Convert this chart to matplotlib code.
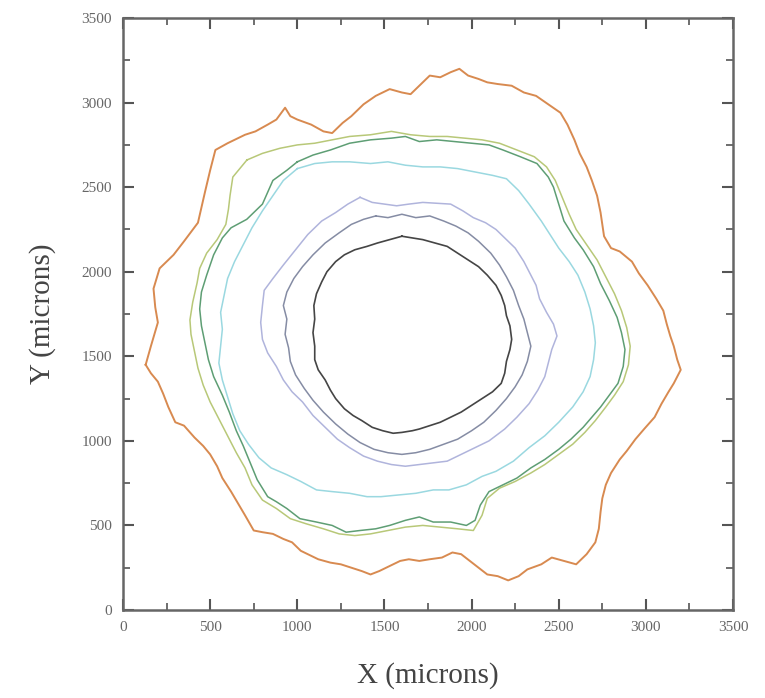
import matplotlib
matplotlib.use("Agg")
import matplotlib.pyplot as plt
from matplotlib.ticker import MultipleLocator

# Contour fronts (x, y in microns)
orange_x = [130,160,200,185,175,210,290,350,430,450,470,500,530,600,700,760,830,880,930,960,1000,1080,1150,1200,1260,1310,1380,1450,1530,1600,1650,1700,1760,1820,1880,1930,1980,2040,2090,2150,2230,2300,2370,2440,2510,2550,2590,2620,2660,2690,2720,2740,2760,2800,2850,2920,2960,3010,3060,3100,3120,3140,3160,3180,3200,3160,3130,3090,3050,2990,2940,2890,2850,2800,2770,2750,2740,2730,2710,2660,2600,2530,2460,2400,2320,2270,2210,2150,2090,2040,1990,1940,1890,1830,1760,1700,1640,1590,1530,1470,1420,1370,1310,1250,1190,1120,1060,1020,970,920,860,800,750,700,660,620,570,540,500,460,410,350,300,260,230,200,160]
orange_y = [1450,1560,1700,1790,1900,2020,2100,2180,2290,2380,2470,2600,2720,2760,2810,2830,2870,2900,2970,2920,2900,2870,2830,2820,2880,2920,2990,3040,3080,3060,3050,3100,3160,3150,3180,3200,3160,3140,3120,3110,3100,3060,3040,2990,2940,2870,2780,2700,2620,2540,2450,2350,2210,2140,2120,2060,1990,1920,1840,1770,1690,1620,1560,1480,1420,1340,1290,1220,1140,1070,1010,940,890,810,740,660,580,480,400,330,270,290,310,270,240,200,175,200,210,250,290,330,340,310,300,290,300,290,260,230,210,230,250,270,280,300,330,350,400,420,450,460,470,560,630,700,780,850,920,970,1020,1090,1110,1200,1280,1350,1400]

olive_x = [711,800,900,1000,1100,1200,1300,1420,1540,1650,1760,1860,1960,2060,2160,2260,2360,2430,2480,2520,2560,2600,2660,2720,2770,2820,2860,2890,2910,2900,2870,2820,2770,2710,2650,2580,2500,2420,2340,2250,2160,2090,2060,2010,1920,1820,1720,1620,1520,1420,1330,1240,1150,1050,960,880,800,740,700,650,600,550,500,460,430,410,390,384,400,425,440,480,540,590,605,614,630]
olive_y = [2661,2700,2730,2750,2760,2780,2800,2810,2830,2810,2800,2800,2790,2780,2760,2720,2680,2620,2540,2440,2340,2250,2160,2070,1970,1870,1770,1670,1560,1450,1350,1270,1200,1120,1050,980,920,860,810,760,720,660,560,470,480,490,500,490,470,450,440,450,480,510,540,600,650,740,840,930,1030,1130,1230,1330,1430,1530,1630,1715,1820,1934,2020,2110,2190,2280,2370,2450,2560]

green_x = [1000,1090,1190,1300,1420,1540,1620,1700,1800,1900,2000,2100,2180,2280,2375,2440,2470,2500,2530,2590,2640,2700,2740,2790,2835,2860,2880,2870,2840,2790,2740,2690,2640,2570,2500,2420,2340,2260,2180,2100,2050,2020,1970,1880,1780,1700,1620,1530,1450,1360,1280,1200,1110,1015,940,880,830,770,730,690,650,610,570,520,490,470,450,440,450,480,520,570,620,710,800,860,940]
green_y = [2650,2690,2720,2760,2780,2790,2800,2770,2780,2770,2760,2750,2720,2680,2640,2560,2500,2400,2300,2200,2130,2030,1930,1830,1730,1640,1540,1440,1340,1270,1200,1140,1080,1010,950,890,840,780,740,700,620,530,500,520,520,550,530,500,480,470,460,500,520,540,600,640,670,770,870,970,1060,1170,1270,1380,1480,1580,1680,1780,1880,1980,2100,2200,2260,2310,2400,2540,2600]

cyan_x = [1000,1100,1200,1300,1420,1520,1620,1720,1820,1920,2020,2120,2200,2270,2330,2400,2450,2500,2560,2610,2650,2680,2700,2710,2700,2680,2640,2580,2500,2420,2330,2240,2140,2060,1970,1870,1780,1680,1580,1480,1400,1300,1200,1110,1020,940,850,780,720,670,630,600,570,550,560,570,560,580,600,640,690,740,800,860,920]
cyan_y = [2610,2640,2650,2650,2640,2650,2630,2620,2620,2610,2590,2570,2550,2480,2400,2300,2220,2140,2060,1980,1880,1780,1680,1580,1480,1380,1290,1200,1110,1030,960,880,820,790,740,710,710,690,680,670,670,690,700,710,760,800,840,900,980,1060,1160,1260,1360,1460,1560,1660,1760,1860,1960,2060,2160,2260,2360,2450,2540]

lavender_x = [1360,1430,1500,1570,1640,1720,1800,1880,1950,2010,2080,2140,2200,2250,2300,2330,2370,2390,2430,2470,2490,2460,2440,2420,2380,2330,2260,2190,2100,2020,1940,1860,1780,1700,1620,1540,1460,1380,1300,1230,1160,1090,1030,970,920,880,830,800,790,800,810,860,920,990,1060,1140,1220,1290]
lavender_y = [2440,2410,2400,2390,2400,2410,2405,2400,2360,2320,2290,2250,2190,2140,2060,2000,1920,1840,1760,1690,1620,1540,1460,1380,1300,1220,1140,1070,1000,960,920,880,870,860,850,860,880,910,960,1010,1080,1150,1230,1290,1360,1440,1520,1600,1700,1800,1890,1960,2040,2130,2220,2300,2350,2400]

slate_x = [1450,1520,1600,1680,1760,1840,1910,1980,2040,2110,2160,2200,2240,2270,2300,2320,2340,2320,2290,2250,2200,2140,2070,2000,1920,1840,1760,1680,1600,1520,1440,1360,1290,1220,1150,1090,1040,990,960,950,930,940,920,940,980,1030,1090,1160,1240,1310,1380]
slate_y = [2330,2320,2340,2320,2330,2300,2270,2230,2180,2110,2040,1970,1890,1800,1720,1640,1560,1470,1390,1320,1250,1180,1110,1060,1010,980,950,930,920,930,950,990,1040,1100,1170,1240,1310,1390,1470,1550,1630,1720,1800,1880,1960,2030,2100,2170,2230,2280,2310]

dark_x = [1600,1660,1720,1790,1860,1920,1980,2040,2090,2140,2170,2190,2200,2220,2230,2220,2200,2190,2170,2120,2060,2000,1940,1880,1820,1760,1700,1660,1600,1550,1490,1430,1370,1320,1270,1220,1190,1160,1120,1100,1100,1090,1100,1095,1110,1140,1170,1220,1270,1330,1400,1460,1530]
dark_y = [2210,2200,2190,2170,2150,2110,2070,2030,1980,1920,1860,1800,1740,1680,1600,1540,1470,1400,1340,1290,1250,1210,1170,1140,1110,1090,1070,1060,1050,1045,1060,1080,1120,1150,1190,1250,1300,1360,1420,1480,1560,1640,1720,1800,1870,1940,2000,2060,2100,2130,2150,2170,2190]

series = [
    (orange_x, orange_y, "#d88a50", 1.4),
    (olive_x, olive_y, "#b8c878", 1.1),
    (green_x, green_y, "#5e9e74", 1.1),
    (cyan_x, cyan_y, "#9ad8e0", 1.1),
    (lavender_x, lavender_y, "#b0b4dc", 1.1),
    (slate_x, slate_y, "#858ca4", 1.1),
    (dark_x, dark_y, "#454545", 1.2),
]

ticks = [0, 500, 1000, 1500, 2000, 2500, 3000, 3500]
tick_labels = ["0", "500", "1000", "1500", "2000", "2500", "3000", "3500"]

fig = plt.figure(figsize=(7.65, 6.98), dpi=100)
ax = fig.add_axes([0.1608, 0.1261, 0.7974, 0.848])

for xs, ys, col, lw in series:
    ax.plot(list(xs) + [xs[0]], list(ys) + [ys[0]], color=col, lw=lw)

ax.set_xlim(0, 3500)
ax.set_ylim(0, 3500)
ax.set_xticks(ticks)
ax.set_yticks(ticks)
ax.set_xticklabels(tick_labels)
ax.set_yticklabels(tick_labels)
ax.xaxis.set_minor_locator(MultipleLocator(250))
ax.yaxis.set_minor_locator(MultipleLocator(250))
ax.tick_params(which="both", direction="in", top=True, right=True,
               colors="#555555", labelcolor="#666666")
ax.tick_params(which="major", length=8, width=1.5, labelsize=11, pad=8)
ax.tick_params(which="minor", length=5, width=1.2)
for lab in ax.get_xticklabels() + ax.get_yticklabels():
    lab.set_fontfamily("Liberation Serif")
for sp in ax.spines.values():
    sp.set_color("#666666")
    sp.set_linewidth(1.8)

ax.set_xlabel("X (microns)", fontsize=21, family="Liberation Serif",
              color="#444444", labelpad=20)
ax.set_ylabel("Y (microns)", fontsize=21, family="Liberation Serif",
              color="#444444", labelpad=18)

fig.savefig("out.png", dpi=100)
